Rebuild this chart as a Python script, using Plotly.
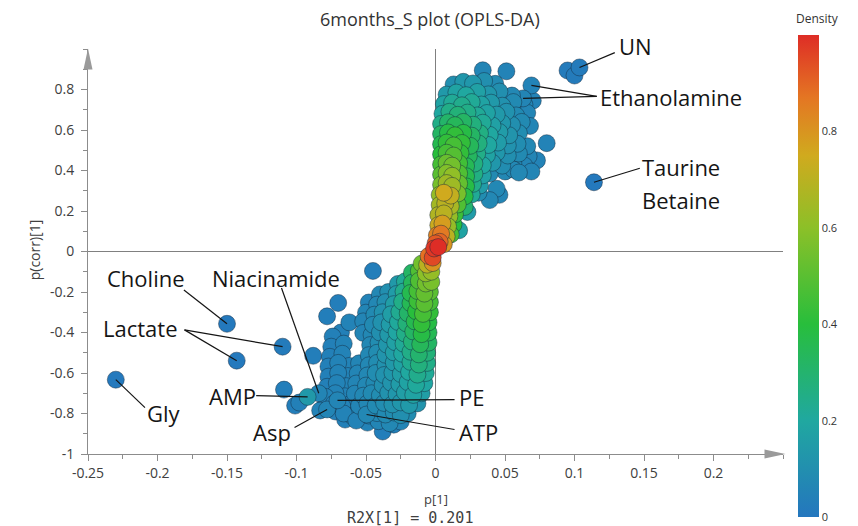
import plotly.graph_objects as go

# ---------------------------------------------------------------
# S-plot loadings: p[1] (covariance) vs p(corr)[1] (correlation)
# Each variable also carries its local point density (0..1).
# ---------------------------------------------------------------

# Positive branch, listed band by band from the top down
pos_p1 = [
    0.034, 0.051, 0.095, 0.100,
    0.013, 0.020, 0.027, 0.035, 0.043,
    0.008, 0.015, 0.022, 0.030, 0.038, 0.046, 0.055,
    0.006, 0.012, 0.019, 0.026, 0.033, 0.040, 0.048, 0.056, 0.064, 0.070,
    0.005, 0.010, 0.016, 0.023, 0.030, 0.037, 0.044, 0.051, 0.058, 0.066,
    0.004, 0.009, 0.014, 0.020, 0.027, 0.034, 0.041, 0.048, 0.055, 0.062, 0.068,
    0.004, 0.009, 0.014, 0.020, 0.026, 0.032, 0.039, 0.046, 0.053, 0.060, 0.080,
    0.004, 0.008, 0.013, 0.019, 0.025, 0.031, 0.038, 0.045, 0.052, 0.059, 0.066,
    0.004, 0.008, 0.013, 0.018, 0.024, 0.030, 0.037, 0.044, 0.052, 0.060, 0.067,
    0.004, 0.008, 0.012, 0.017, 0.022, 0.028, 0.034, 0.041, 0.048, 0.056, 0.064, 0.073,
    0.004, 0.008, 0.012, 0.017, 0.022, 0.028, 0.034, 0.039, 0.050, 0.056, 0.060, 0.069,
    0.004, 0.008, 0.012, 0.017, 0.022, 0.027, 0.032,
    0.044, 0.046, 0.039, 0.031,
    0.003, 0.006, 0.011, 0.016, 0.021, 0.026,
    0.003, 0.007, 0.011, 0.016, 0.021,
    0.002, 0.006, 0.010, 0.014, 0.023,
    0.002, 0.005, 0.009, 0.013, 0.017,
    0.001, 0.004, 0.008, 0.011,
    0.000, 0.003, 0.006,
    -0.001, 0.002,
]
pos_pcorr = [
    0.895, 0.890, 0.894, 0.869,
    0.825, 0.838, 0.830, 0.842, 0.828,
    0.775, 0.785, 0.772, 0.788, 0.776, 0.790, 0.770,
    0.728, 0.735, 0.722, 0.738, 0.726, 0.735, 0.720, 0.738, 0.725, 0.745,
    0.680, 0.690, 0.675, 0.686, 0.672, 0.684, 0.676, 0.690, 0.672, 0.685,
    0.630, 0.638, 0.624, 0.640, 0.626, 0.636, 0.622, 0.634, 0.625, 0.640, 0.620,
    0.580, 0.588, 0.574, 0.586, 0.572, 0.584, 0.576, 0.590, 0.574, 0.585, 0.535,
    0.530, 0.538, 0.524, 0.536, 0.522, 0.534, 0.526, 0.538, 0.524, 0.532, 0.520,
    0.480, 0.488, 0.474, 0.486, 0.472, 0.484, 0.476, 0.488, 0.474, 0.484, 0.470,
    0.430, 0.438, 0.424, 0.436, 0.422, 0.434, 0.426, 0.438, 0.424, 0.436, 0.424, 0.450,
    0.380, 0.388, 0.374, 0.386, 0.372, 0.384, 0.376, 0.385, 0.395, 0.405, 0.390, 0.395,
    0.330, 0.338, 0.324, 0.336, 0.322, 0.334, 0.326,
    0.310, 0.280, 0.254, 0.290,
    0.280, 0.290, 0.276, 0.286, 0.272, 0.282,
    0.230, 0.238, 0.224, 0.232, 0.220,
    0.180, 0.188, 0.174, 0.184, 0.195,
    0.130, 0.138, 0.124, 0.134, 0.105,
    0.080, 0.088, 0.074, 0.084,
    0.040, 0.048, 0.036,
    0.015, 0.022,
]
pos_density = [
    0.06, 0.05, 0.02, 0.02,
    0.10, 0.13, 0.13, 0.10, 0.08,
    0.14, 0.18, 0.20, 0.17, 0.13, 0.10, 0.07,
    0.18, 0.22, 0.24, 0.22, 0.18, 0.14, 0.11, 0.08, 0.06, 0.05,
    0.20, 0.25, 0.28, 0.25, 0.22, 0.18, 0.14, 0.11, 0.08, 0.06,
    0.25, 0.31, 0.34, 0.32, 0.27, 0.22, 0.17, 0.13, 0.10, 0.08, 0.06,
    0.32, 0.38, 0.42, 0.38, 0.32, 0.26, 0.20, 0.15, 0.12, 0.09, 0.05,
    0.36, 0.42, 0.46, 0.42, 0.34, 0.27, 0.20, 0.15, 0.11, 0.09, 0.07,
    0.40, 0.46, 0.49, 0.42, 0.33, 0.25, 0.18, 0.13, 0.10, 0.08, 0.06,
    0.46, 0.53, 0.55, 0.45, 0.35, 0.27, 0.20, 0.13, 0.09, 0.07, 0.06, 0.05,
    0.50, 0.58, 0.61, 0.48, 0.36, 0.26, 0.17, 0.08, 0.07, 0.07, 0.07, 0.06,
    0.56, 0.64, 0.64, 0.52, 0.38, 0.25, 0.15,
    0.07, 0.06, 0.07, 0.09,
    0.62, 0.75, 0.72, 0.56, 0.38, 0.22,
    0.65, 0.70, 0.66, 0.48, 0.30,
    0.68, 0.70, 0.62, 0.44, 0.15,
    0.74, 0.78, 0.62, 0.40, 0.18,
    0.84, 0.86, 0.70, 0.46,
    0.92, 0.90, 0.80,
    0.98, 1.00,
]

# Negative branch, listed band by band from zero downwards
neg_p1 = [
    -0.002, -0.005,
    -0.002, -0.006, -0.010,
    -0.003, -0.007, -0.012, -0.017, -0.045,
    -0.003, -0.007, -0.012, -0.017, -0.022, -0.027,
    -0.004, -0.008, -0.013, -0.018, -0.023, -0.028, -0.034, -0.040,
    -0.004, -0.008, -0.013, -0.018, -0.024, -0.030, -0.036, -0.042, -0.048, -0.070,
    -0.004, -0.009, -0.014, -0.020, -0.026, -0.032, -0.038, -0.044, -0.050, -0.078,
    -0.005, -0.010, -0.015, -0.021, -0.027, -0.033, -0.039, -0.045, -0.052, -0.062,
    -0.005, -0.010, -0.016, -0.022, -0.028, -0.034, -0.040, -0.046, -0.052, -0.068, -0.074,
    -0.005, -0.011, -0.017, -0.023, -0.029, -0.035, -0.041, -0.047, -0.066, -0.075,
    -0.006, -0.012, -0.018, -0.024, -0.030, -0.036, -0.042, -0.048, -0.067, -0.076,
    -0.006, -0.012, -0.018, -0.024, -0.030, -0.036, -0.042, -0.048, -0.055, -0.062, -0.070, -0.077,
    -0.007, -0.013, -0.019, -0.025, -0.031, -0.037, -0.043, -0.049, -0.056, -0.063, -0.070, -0.077,
    -0.008, -0.014, -0.020, -0.026, -0.032, -0.038, -0.044, -0.050, -0.057, -0.064, -0.071, -0.078,
    -0.010, -0.016, -0.022, -0.028, -0.034, -0.040, -0.046, -0.052, -0.058, -0.065, -0.072, -0.079,
    -0.013, -0.019, -0.025, -0.031, -0.037, -0.043, -0.049, -0.055, -0.061, -0.067, -0.073, -0.080,
    -0.020, -0.025, -0.030, -0.036, -0.042, -0.048, -0.054, -0.060, -0.066, -0.072,
    -0.025, -0.033, -0.041, -0.049, -0.057, -0.065,
    -0.038, -0.030,
    -0.088, -0.109, -0.101, -0.098, -0.083,
]
neg_pcorr = [
    -0.030, -0.022,
    -0.057, -0.065, -0.060,
    -0.100, -0.108, -0.096, -0.105, -0.096,
    -0.150, -0.158, -0.145, -0.155, -0.148, -0.160,
    -0.200, -0.208, -0.195, -0.205, -0.198, -0.210, -0.200, -0.212,
    -0.250, -0.258, -0.245, -0.255, -0.248, -0.260, -0.250, -0.262, -0.252, -0.254,
    -0.300, -0.308, -0.295, -0.305, -0.298, -0.310, -0.300, -0.312, -0.302, -0.320,
    -0.350, -0.358, -0.345, -0.355, -0.348, -0.360, -0.350, -0.362, -0.345, -0.350,
    -0.400, -0.408, -0.395, -0.405, -0.398, -0.410, -0.400, -0.412, -0.402, -0.400, -0.420,
    -0.450, -0.458, -0.445, -0.455, -0.448, -0.460, -0.450, -0.462, -0.455, -0.470,
    -0.500, -0.508, -0.495, -0.505, -0.498, -0.510, -0.500, -0.512, -0.505, -0.520,
    -0.550, -0.558, -0.545, -0.555, -0.548, -0.560, -0.550, -0.562, -0.552, -0.565, -0.550, -0.568,
    -0.600, -0.608, -0.595, -0.605, -0.598, -0.610, -0.600, -0.612, -0.602, -0.615, -0.600, -0.618,
    -0.650, -0.658, -0.645, -0.655, -0.648, -0.660, -0.650, -0.662, -0.652, -0.665, -0.650, -0.668,
    -0.700, -0.708, -0.695, -0.705, -0.698, -0.710, -0.700, -0.712, -0.702, -0.715, -0.700, -0.718,
    -0.750, -0.758, -0.745, -0.755, -0.748, -0.760, -0.750, -0.762, -0.752, -0.765, -0.750, -0.768,
    -0.800, -0.808, -0.795, -0.805, -0.798, -0.810, -0.800, -0.812, -0.800, -0.790,
    -0.840, -0.848, -0.838, -0.845, -0.835, -0.830,
    -0.889, -0.855,
    -0.515, -0.682, -0.761, -0.746, -0.785,
]
neg_density = [
    0.95, 0.88,
    0.80, 0.70, 0.55,
    0.62, 0.60, 0.48, 0.32, 0.03,
    0.56, 0.55, 0.48, 0.34, 0.22, 0.14,
    0.50, 0.52, 0.46, 0.36, 0.24, 0.15, 0.10, 0.07,
    0.46, 0.50, 0.44, 0.35, 0.25, 0.16, 0.10, 0.07, 0.05, 0.03,
    0.42, 0.46, 0.40, 0.31, 0.23, 0.16, 0.11, 0.08, 0.06, 0.03,
    0.38, 0.42, 0.36, 0.28, 0.21, 0.15, 0.11, 0.08, 0.06, 0.05,
    0.35, 0.38, 0.32, 0.25, 0.19, 0.14, 0.10, 0.07, 0.06, 0.04, 0.04,
    0.32, 0.34, 0.28, 0.22, 0.17, 0.13, 0.09, 0.07, 0.05, 0.04,
    0.28, 0.30, 0.25, 0.20, 0.16, 0.12, 0.09, 0.07, 0.05, 0.04,
    0.25, 0.27, 0.23, 0.18, 0.14, 0.11, 0.09, 0.07, 0.06, 0.05, 0.05, 0.04,
    0.22, 0.24, 0.20, 0.16, 0.13, 0.11, 0.09, 0.07, 0.06, 0.05, 0.05, 0.04,
    0.19, 0.21, 0.18, 0.15, 0.12, 0.10, 0.08, 0.07, 0.06, 0.05, 0.05, 0.04,
    0.16, 0.18, 0.16, 0.13, 0.11, 0.09, 0.08, 0.07, 0.06, 0.05, 0.05, 0.05,
    0.12, 0.14, 0.13, 0.11, 0.09, 0.08, 0.07, 0.06, 0.05, 0.05, 0.05, 0.04,
    0.09, 0.10, 0.09, 0.08, 0.07, 0.06, 0.05, 0.05, 0.05, 0.04,
    0.06, 0.07, 0.06, 0.05, 0.05, 0.04,
    0.03, 0.04,
    0.03, 0.03, 0.03, 0.04, 0.05,
]

# Identified metabolites
named_var = ["UN", "Ethanolamine", "Ethanolamine", "Taurine/Betaine", "Choline",
             "Lactate", "Lactate", "Gly", "AMP", "Niacinamide", "Asp", "PE", "ATP"]
named_p1 = [0.1036, 0.069, 0.063, 0.114, -0.150,
            -0.110, -0.143, -0.230, -0.092, -0.084, -0.078, -0.0705, -0.0496]
named_pcorr = [0.909, 0.820, 0.756, 0.342, -0.357,
               -0.470, -0.539, -0.633, -0.718, -0.700, -0.780, -0.735, -0.805]
named_density = [0.02, 0.05, 0.06, 0.01, 0.01,
                 0.02, 0.01, 0.01, 0.14, 0.06, 0.06, 0.06, 0.07]

# Axis ticks
x_ticks = [-0.25, -0.2, -0.15, -0.1, -0.05, 0, 0.05, 0.1, 0.15, 0.2]
x_ticklabels = ["-0.25", "-0.2", "-0.15", "-0.1", "-0.05", "0", "0.05", "0.1", "0.15", "0.2"]
y_ticks = [-1, -0.8, -0.6, -0.4, -0.2, 0, 0.2, 0.4, 0.6, 0.8]
y_ticklabels = ["-1", "-0.8", "-0.6", "-0.4", "-0.2", "0", "0.2", "0.4", "0.6", "0.8"]
density_ticks = [0, 0.2, 0.4, 0.6, 0.8]

# ---------------------------------------------------------------
p1 = pos_p1 + neg_p1 + named_p1
pcorr = pos_pcorr + neg_pcorr + named_pcorr
density = pos_density + neg_density + named_density
# draw the densest points last so they sit on top
order = sorted(range(len(p1)), key=lambda i: density[i])
xs = [p1[i] for i in order]
ys = [pcorr[i] for i in order]
ds = [density[i] for i in order]

density_scale = [
    [0.00, "rgb(36,118,190)"],
    [0.20, "rgb(32,168,160)"],
    [0.40, "rgb(40,190,60)"],
    [0.60, "rgb(140,192,40)"],
    [0.75, "rgb(208,170,30)"],
    [0.87, "rgb(228,118,35)"],
    [1.00, "rgb(222,45,38)"],
]

# plot-area geometry (pixels)
L, R, T, B = 88, 74.5, 48.5, 72
W, H = 858, 526
PW, PH = W - L - R, H - T - B


def px(xp):
    return (xp - L) / PW


def py(yp):
    return (H - B - yp) / PH


fig = go.Figure()
fig.add_trace(go.Scatter(
    x=xs, y=ys, mode="markers",
    marker=dict(
        size=17, color=ds, colorscale=density_scale, cmin=0, cmax=1.0,
        line=dict(width=1, color="rgba(20,40,60,0.45)"),
        colorbar=dict(
            x=px(799), xanchor="left", xpad=0,
            y=py(276), yanchor="middle", ypad=0,
            len=482, lenmode="pixels", thickness=21,
            outlinewidth=0, ticks="", tickvals=density_ticks,
            tickfont=dict(family="Open Sans", size=11, color="#333333"),
        ),
    ),
    hoverinfo="skip", showlegend=False,
))

axis_color = "#8c8c8c"
common = dict(showgrid=False, zeroline=True, zerolinecolor="#808080", zerolinewidth=1,
              showline=True, linecolor=axis_color, linewidth=1,
              ticks="outside", ticklen=6, tickcolor=axis_color,
              tickfont=dict(family="Open Sans", size=14, color="#404040"))
fig.update_xaxes(range=[-0.25, 0.25], tickmode="array", tickvals=x_ticks, ticktext=x_ticklabels,
                 minor=dict(dtick=0.025, tick0=0, ticks="outside", ticklen=4, tickcolor=axis_color),
                 **common)
fig.update_yaxes(range=[-1, 1.0], tickmode="array", tickvals=y_ticks, ticktext=y_ticklabels,
                 minor=dict(dtick=0.1, tick0=0, ticks="outside", ticklen=4, tickcolor=axis_color),
                 ticklabelstandoff=4, **common)

# ---- metabolite labels and leader lines ----
lookup = {}
for n, x, y in zip(named_var, named_p1, named_pcorr):
    lookup.setdefault(n, []).append((x, y))

# label text placement in pixels: (text, x, y, xanchor)
label_text = [
    ("UN", 617, 45, "left"),
    ("Ethanolamine", 598, 97, "left"),
    ("Taurine", 640, 167, "left"),
    ("Betaine", 640, 200, "left"),
    ("Choline", 105, 278, "left"),
    ("Niacinamide", 210, 278, "left"),
    ("Lactate", 101, 328, "left"),
    ("Gly", 145, 413, "left"),
    ("AMP", 258, 396, "right"),
    ("Asp", 251, 432, "left"),
    ("PE", 457, 397, "left"),
    ("ATP", 457, 432, "left"),
]
# leader-line start next to each label (p[1], p(corr)[1] units)
leader_from = {
    "UN": (0.129, 0.982),
    "Ethanolamine": (0.116, 0.766),
    "Taurine/Betaine": (0.147, 0.411),
    "Choline": (-0.181, -0.190),
    "Niacinamide": (-0.1108, -0.180),
    "Lactate": (-0.1806, -0.387),
    "Gly": (-0.209, -0.771),
    "AMP": (-0.129, -0.712),
    "Asp": (-0.1014, -0.869),
    "PE": (0.0137, -0.731),
    "ATP": (0.0137, -0.879),
}

shapes = []
for name, (x0, y0) in leader_from.items():
    for (x1, y1) in lookup[name]:
        shapes.append(dict(type="line", xref="x", yref="y", x0=x0, y0=y0, x1=x1, y1=y1,
                           line=dict(color="#151515", width=1.2)))

# arrow heads at the ends of both axes
arrow_col = "#9a9a9a"
shapes.append(dict(type="path", xref="paper", yref="paper",
                   path=f"M {px(765)} {py(449.5)} L {px(786)} {py(454)} L {px(765)} {py(458.5)} Z",
                   fillcolor=arrow_col, line=dict(width=0)))
shapes.append(dict(type="path", xref="paper", yref="paper",
                   path=f"M {px(83.5)} {py(69)} L {px(88)} {py(48)} L {px(92.5)} {py(69)} Z",
                   fillcolor=arrow_col, line=dict(width=0)))

label_font = dict(family="Open Sans", size=22, color="#151515")
annotations = []
for text, xp, yp, anchor in label_text:
    annotations.append(dict(x=px(xp), y=py(yp), xref="paper", yref="paper", text=text,
                            showarrow=False, xanchor=anchor, yanchor="middle", font=label_font))

annotations += [
    dict(x=px(430), y=py(18), xref="paper", yref="paper", text="6months_S plot (OPLS-DA)",
         showarrow=False, xanchor="center", yanchor="middle",
         font=dict(family="Open Sans", size=18, color="#333333")),
    dict(x=px(818), y=py(18), xref="paper", yref="paper", text="Density",
         showarrow=False, xanchor="center", yanchor="middle",
         font=dict(family="Open Sans", size=12, color="#333333")),
    dict(x=px(436), y=py(499), xref="paper", yref="paper", text="p[1]",
         showarrow=False, xanchor="center", yanchor="middle",
         font=dict(family="Open Sans", size=13, color="#404040")),
    dict(x=px(410), y=py(518), xref="paper", yref="paper", text="R2X[1] = 0.201",
         showarrow=False, xanchor="center", yanchor="middle",
         font=dict(family="DejaVu Sans Mono", size=15, color="#404040")),
    dict(x=px(34), y=py(250), xref="paper", yref="paper", text="p(corr)[1]",
         showarrow=False, xanchor="center", yanchor="middle", textangle=-90,
         font=dict(family="Open Sans", size=14, color="#404040")),
]

fig.update_layout(
    width=W, height=H,
    margin=dict(l=L, r=R, t=T, b=B),
    paper_bgcolor="white", plot_bgcolor="white",
    shapes=shapes, annotations=annotations,
)

fig.write_html("out.html")
